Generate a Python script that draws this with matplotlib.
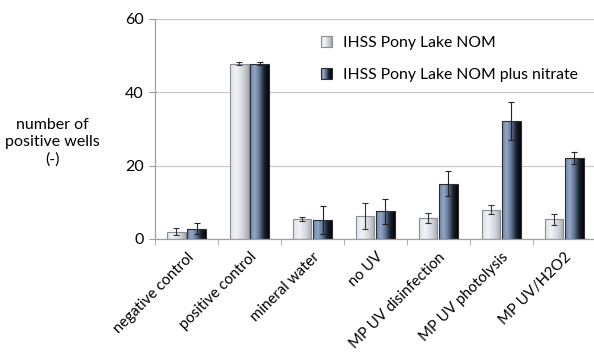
import numpy as np
import matplotlib.pyplot as plt
from matplotlib.colors import LinearSegmentedColormap
from matplotlib.patches import Rectangle
from matplotlib.legend_handler import HandlerPatch

plt.rcParams['font.family'] = ['Lato', 'DejaVu Sans']

categories = ["negative control", "positive control", "mineral water", "no UV",
              "MP UV disinfection", "MP UV photolysis", "MP UV/H2O2"]
nom = [2.0, 47.8, 5.4, 6.3, 5.7, 8.0, 5.4]
nom_err = [1.0, 0.5, 0.6, 3.5, 1.3, 1.3, 1.5]
nom_nitrate = [2.8, 47.8, 5.1, 7.5, 15.1, 32.1, 22.0]
nom_nitrate_err = [1.4, 0.5, 3.9, 3.4, 3.4, 5.2, 1.6]
series_names = ["IHSS Pony Lake NOM", "IHSS Pony Lake NOM plus nitrate"]

light_cmap = LinearSegmentedColormap.from_list(
    "light", ["#dde1e8", "#f1f3f6", "#d3d7de", "#a6abb3"])
dark_cmap = LinearSegmentedColormap.from_list(
    "dark", ["#7087a9", "#91a7c6", "#5f7392", "#1c222b", "#050608"])
grad = np.linspace(0, 1, 64).reshape(1, -1)


def gradient_bars(ax, x, heights, width, cmap, edge):
    bars = ax.bar(x, heights, width, color="none", edgecolor=edge,
                  linewidth=0.8, zorder=3)
    for b in bars:
        x0, y0 = b.get_x(), b.get_y()
        im = ax.imshow(grad, cmap=cmap, aspect="auto", zorder=2,
                       extent=(x0, x0 + b.get_width(), y0, y0 + b.get_height()))
        im.set_clip_path(b)
    return bars


class GradientHandler(HandlerPatch):
    def __init__(self, cmap, edge):
        super().__init__()
        self.cmap = cmap
        self.edge = edge

    def create_artists(self, legend, orig_handle, xdescent, ydescent,
                       width, height, fontsize, trans):
        s = height * 1.0
        x0 = -xdescent + (width - s) / 2
        y0 = -ydescent + (height - s) / 2
        arts = []
        n = 12
        for i in range(n):
            r = Rectangle((x0 + s * i / n, y0), s / n + 0.3, s,
                          facecolor=self.cmap(i / (n - 1)), edgecolor="none",
                          transform=trans)
            arts.append(r)
        arts.append(Rectangle((x0, y0), s, s, facecolor="none",
                              edgecolor=self.edge, linewidth=0.8,
                              transform=trans))
        return arts


fig = plt.figure(figsize=(5.94, 3.56), dpi=100)
ax = fig.add_axes([0.261, 0.329, 0.742, 0.618])

x = np.arange(len(categories))
w = 0.29
off = 0.16
b1 = gradient_bars(ax, x - off, nom, w, light_cmap, "#8a8e94")
b2 = gradient_bars(ax, x + off, nom_nitrate, w, dark_cmap, "#2a2f36")
ax.errorbar(x - off, nom, yerr=nom_err, fmt="none", ecolor="#333333",
            elinewidth=0.8, capsize=2.5, capthick=0.8, zorder=4)
ax.errorbar(x + off, nom_nitrate, yerr=nom_nitrate_err, fmt="none",
            ecolor="#222222", elinewidth=0.8, capsize=2.5, capthick=0.8,
            zorder=4)

ax.set_xlim(-0.5, len(categories) - 0.5)
ax.set_ylim(0, 60)
ax.set_yticks([0, 20, 40, 60])
ax.yaxis.grid(True, color="#c8c8c8", linewidth=0.9)
ax.set_axisbelow(True)

ax.set_xticks(x)
ax.set_xticklabels(categories, rotation=45, ha="right",
                   rotation_mode="anchor", fontsize=10.8)
ax.set_xticks(np.arange(len(categories) + 1) - 0.5, minor=True)
ax.tick_params(axis="x", which="major", length=0, pad=8)
ax.tick_params(axis="x", which="minor", length=4, color="#a0a0a0")
ax.tick_params(axis="y", length=4, color="#a0a0a0", labelsize=11.5, pad=4)

for side in ["top", "right"]:
    ax.spines[side].set_visible(False)
for side in ["left", "bottom"]:
    ax.spines[side].set_color("#a0a0a0")
    ax.spines[side].set_linewidth(0.9)

fig.text(0.088, 0.6, "number of\npositive wells\n(-)", ha="center",
         va="center", fontsize=11.5, linespacing=1.3)

ax.legend([b1[0], b2[0]], series_names, loc="upper left",
          bbox_to_anchor=(0.34, 0.985), frameon=False, fontsize=11.3,
          labelspacing=1.1, handlelength=0.9, handletextpad=0.6,
          handler_map={b1[0]: GradientHandler(light_cmap, "#8a8e94"),
                       b2[0]: GradientHandler(dark_cmap, "#2a2f36")})

fig.savefig("out.png", dpi=100)
